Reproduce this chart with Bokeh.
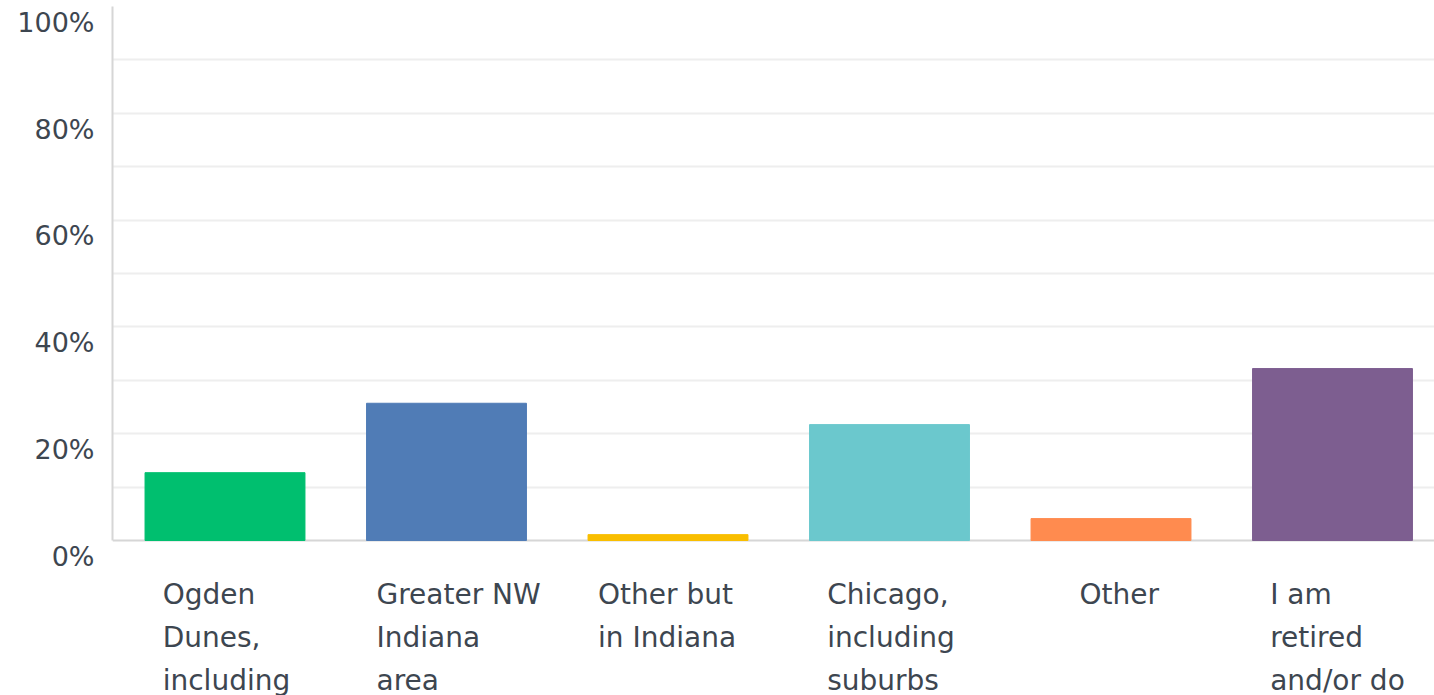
from bokeh.plotting import figure
from bokeh.models import ColumnDataSource, FixedTicker, LinearAxis, Range1d, Grid
from bokeh.core.properties import value
from bokeh.embed import file_html
from bokeh.resources import INLINE

# ---- data ----
categories = [
    "Ogden\nDunes,\nincluding",
    "Greater NW\nIndiana\narea",
    "Other but\nin Indiana",
    "Chicago,\nincluding\nsuburbs",
    "Other",
    "I am\nretired\nand/or do",
]
percent = [12.7, 25.7, 1.1, 21.7, 4.1, 32.2]
colors = ["#00BF6F", "#507CB6", "#F9BE00", "#6BC8CD", "#FF8B4F", "#7D5E90"]
tick_values = [0, 20, 40, 60, 80, 100]
tick_labels = ["0%", "20%", "40%", "60%", "80%", "100%"]
grid_values = [10, 20, 30, 40, 50, 60, 70, 80, 90]

# ---- layout constants (pixels) ----
W, H = 1434, 695
frame_left = 112
zero_px = 540.0          # distance of 0% from frame top
px_per_unit_y = 5.34
slot_px = 221.5
slot0_px = 1.75

FONT = "DejaVu Sans"
TEXT_COLOR = "#3d4650"

y_end = zero_px / px_per_unit_y
y_start = -(H - zero_px) / px_per_unit_y
frame_w = W - frame_left
x_start = -slot0_px / slot_px
x_end = x_start + frame_w / slot_px

p = figure(width=W, height=H, output_backend="svg", toolbar_location=None,
           x_range=Range1d(x_start, x_end), y_range=Range1d(y_start, y_end),
           min_border_left=frame_left, min_border_right=0, min_border_top=0,
           min_border_bottom=0, x_axis_location=None, y_axis_location=None)
p.outline_line_color = None
p.background_fill_color = "white"
p.border_fill_color = "white"

xs = [i + 0.5 for i in range(len(categories))]
src = ColumnDataSource(dict(x=xs, top=percent, color=colors, cat=categories))
p.vbar(x="x", top="top", bottom=0, width=0.722, color="color", source=src)

# y labels axis (labels sit slightly below their gridline)
label_shift = 2.95
label_axis = LinearAxis(
    ticker=FixedTicker(ticks=[v - label_shift for v in tick_values]),
    major_label_overrides={v - label_shift: t for v, t in zip(tick_values, tick_labels)},
    axis_line_color=None, major_tick_line_color=None, minor_tick_line_color=None,
    major_tick_out=0, major_tick_in=0,
    major_label_text_font=FONT, major_label_text_font_size="27px",
    major_label_text_color=TEXT_COLOR, major_label_standoff=18,
)
line_axis = LinearAxis(
    ticker=FixedTicker(ticks=[]), bounds=(0, 100),
    axis_line_color="#d6d6d6", axis_line_width=2,
    major_tick_line_color=None, minor_tick_line_color=None,
    major_tick_out=0, major_tick_in=0, major_label_standoff=0,
    major_label_text_font_size="0px",
)
p.left = [line_axis, label_axis]

p.ygrid.visible = False
p.xgrid.visible = False
grid = Grid(dimension=1, ticker=FixedTicker(ticks=grid_values),
            grid_line_color="#eeeeee", grid_line_width=2)
p.add_layout(grid)
base = Grid(dimension=1, ticker=FixedTicker(ticks=[0]),
            grid_line_color="#d6d6d6", grid_line_width=2)
p.add_layout(base)

# category labels below the bars: left-aligned lines in a block centred on the bar
char_px = 15.4
offsets = [7 - max(len(s) for s in c.split("\n")) * char_px / 2 for c in categories]
src.data["xoff"] = offsets
p.text(x="x", y=-7.0, text="cat", source=src, x_offset="xoff",
       text_font=value(FONT), text_font_size="28px", text_color=TEXT_COLOR,
       text_align="left", text_baseline="top", text_line_height=1.3)

open("out.html", "w").write(file_html(p, INLINE))
